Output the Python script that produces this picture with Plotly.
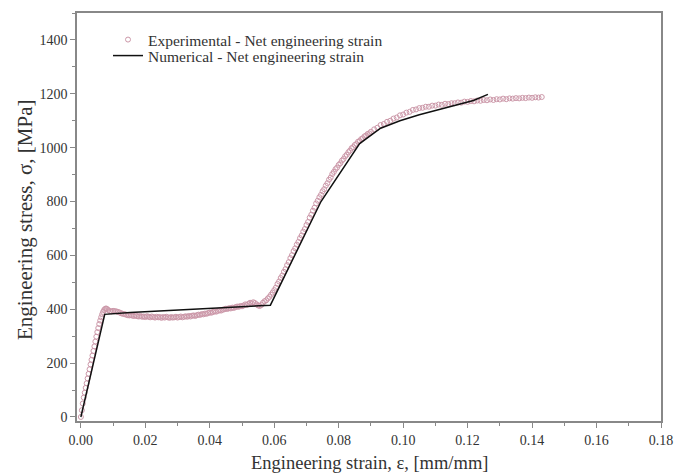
import plotly.graph_objects as go

# ---------------- data ----------------
# Experimental - elastic part
exp_strain_a = [0.0000, 0.0003, 0.0006, 0.0009, 0.0012, 0.0015, 0.0018, 0.0021, 0.0024, 0.0027,
                0.0030, 0.0033, 0.0036, 0.0039, 0.0042, 0.0045, 0.0048, 0.0051, 0.0054, 0.0057,
                0.0060, 0.0063, 0.0066, 0.0069, 0.0072, 0.0075, 0.0078]
exp_stress_a = [0, 25, 50, 72, 90, 108, 125, 143, 160, 177,
                195, 212, 228, 245, 262, 280, 298, 315, 330, 345,
                358, 370, 381, 390, 397, 401, 403]

# Experimental - yield plateau
exp_strain_b = [0.0081, 0.0085, 0.0090, 0.0095, 0.0100, 0.0105, 0.0110, 0.0115, 0.0120, 0.0125,
                0.0130, 0.0135, 0.0140, 0.0145, 0.0150, 0.0155, 0.0160, 0.0165, 0.0170, 0.0175,
                0.0180, 0.0185, 0.0190, 0.0195, 0.0200, 0.0205, 0.0210, 0.0215, 0.0220, 0.0225,
                0.0230, 0.0235, 0.0240, 0.0245, 0.0250, 0.0255, 0.0260, 0.0265, 0.0270, 0.0275,
                0.0280, 0.0285, 0.0290, 0.0295, 0.0300, 0.0305, 0.0310, 0.0315, 0.0320, 0.0325,
                0.0330, 0.0335, 0.0340, 0.0345, 0.0350, 0.0355, 0.0360, 0.0365, 0.0370, 0.0375,
                0.0380, 0.0385, 0.0390, 0.0395, 0.0400, 0.0405, 0.0410, 0.0415, 0.0420, 0.0425,
                0.0430, 0.0435, 0.0440, 0.0445, 0.0450, 0.0455, 0.0460, 0.0465, 0.0470, 0.0475,
                0.0480, 0.0485, 0.0490, 0.0495, 0.0500, 0.0505, 0.0510, 0.0515, 0.0520, 0.0525,
                0.0530, 0.0535, 0.0540, 0.0545, 0.0550, 0.0555, 0.0560, 0.0565, 0.0570]
exp_stress_b = [401, 397, 393, 392, 394, 393, 392, 390, 388, 385,
                383, 382, 380, 378, 377, 378, 376, 375, 377, 374,
                373, 375, 372, 373, 371, 374, 372, 370, 373, 371,
                369, 372, 370, 371, 368, 371, 369, 372, 370, 368,
                371, 369, 370, 372, 369, 371, 373, 370, 372, 374,
                372, 375, 373, 376, 377, 375, 378, 380, 379, 382,
                381, 384, 383, 386, 388, 387, 390, 392, 391, 394,
                396, 395, 398, 400, 402, 401, 404, 403, 406, 405,
                408, 410, 409, 412, 411, 414, 418, 416, 420, 424,
                422, 426, 423, 418, 414, 412, 416, 424, 430]

# Experimental - hardening (steep)
exp_strain_c = [0.0575, 0.0580, 0.0585, 0.0590, 0.0595, 0.0600, 0.0605, 0.0610, 0.0615, 0.0620,
                0.0625, 0.0630, 0.0635, 0.0640, 0.0645, 0.0650, 0.0655, 0.0660, 0.0665, 0.0670,
                0.0675, 0.0680, 0.0685, 0.0690, 0.0695, 0.0700, 0.0705, 0.0710, 0.0715, 0.0720,
                0.0725, 0.0730, 0.0735, 0.0740, 0.0745, 0.0750, 0.0755, 0.0760, 0.0765, 0.0770,
                0.0775, 0.0780, 0.0785, 0.0790, 0.0795, 0.0800, 0.0805, 0.0810, 0.0815, 0.0820,
                0.0825, 0.0830, 0.0835, 0.0840, 0.0845, 0.0850, 0.0855, 0.0860, 0.0865, 0.0870,
                0.0875, 0.0880, 0.0885, 0.0890, 0.0895, 0.0900]
exp_stress_c = [433, 440, 446, 454, 462, 471, 480, 494, 503, 516,
                525, 539, 549, 564, 575, 590, 601, 616, 626, 640,
                650, 664, 674, 688, 698, 713, 724, 740, 751, 766,
                777, 793, 803, 816, 825, 838, 846, 859, 868, 881,
                889, 902, 910, 920, 926, 936, 942, 952, 958, 968,
                974, 983, 989, 998, 1002, 1010, 1014, 1022, 1025, 1032,
                1035, 1042, 1045, 1051, 1053, 1059]

# Experimental - hardening (saturation)
exp_strain_d = [0.091, 0.092, 0.093, 0.094, 0.095, 0.096, 0.097, 0.098, 0.099, 0.100,
                0.101, 0.102, 0.103, 0.104, 0.105, 0.106, 0.107, 0.108, 0.109, 0.110,
                0.111, 0.112, 0.113, 0.114, 0.115, 0.116, 0.117, 0.118, 0.119, 0.120,
                0.121, 0.122, 0.123, 0.124, 0.125, 0.126, 0.127, 0.128, 0.129, 0.130,
                0.131, 0.132, 0.133, 0.134, 0.135, 0.136, 0.137, 0.138, 0.139, 0.140,
                0.141, 0.142, 0.143]
exp_stress_d = [1068, 1074, 1084, 1088, 1096, 1100, 1108, 1112, 1120, 1123,
                1130, 1133, 1140, 1142, 1147, 1148, 1152, 1152, 1156, 1156,
                1160, 1159, 1163, 1162, 1165, 1165, 1168, 1167, 1171, 1170,
                1173, 1172, 1175, 1174, 1177, 1176, 1179, 1177, 1180, 1179,
                1182, 1180, 1183, 1182, 1184, 1183, 1185, 1184, 1186, 1185,
                1187, 1186, 1188]

# Numerical curve
num_strain = [0.0, 0.0074, 0.0153, 0.0422, 0.0588, 0.0745, 0.0865, 0.093, 0.099, 0.105,
              0.1136, 0.1218, 0.1263]
num_stress = [0, 381, 388, 403, 415, 800, 1015, 1072, 1100, 1122,
              1148, 1175, 1198]

x_ticks = [0.00, 0.02, 0.04, 0.06, 0.08, 0.10, 0.12, 0.14, 0.16, 0.18]
x_tick_labels = ["0.00", "0.02", "0.04", "0.06", "0.08", "0.10", "0.12", "0.14", "0.16", "0.18"]
y_ticks = [0, 200, 400, 600, 800, 1000, 1200, 1400]
y_tick_labels = ["0", "200", "400", "600", "800", "1000", "1200", "1400"]

exp_strain = exp_strain_a + exp_strain_b + exp_strain_c + exp_strain_d
exp_stress = exp_stress_a + exp_stress_b + exp_stress_c + exp_stress_d
assert len(exp_strain) == len(exp_stress)

# ---------------- figure ----------------
FONT = "Liberation Serif, Times New Roman, serif"
AXIS_COL = "#888888"
TXT_COL = "#333333"
W, H = 675, 475
# plot frame in page pixels: left 77, right 661, top 13, bottom 421
ML, MT = 77, 13
MR, MB = W - 661, H - 421
PW, PH = W - ML - MR, H - MT - MB


def px(xp):
    return (xp - ML) / PW


def py(yp):
    return (H - MB - yp) / PH


fig = go.Figure()
fig.add_trace(go.Scatter(
    x=exp_strain, y=exp_stress, mode="markers",
    name="Experimental - Net engineering strain", legend="legend",
    marker=dict(symbol="circle-open", size=5, color="#cc98a9", line=dict(width=1, color="#cc98a9")),
))
fig.add_trace(go.Scatter(
    x=num_strain, y=num_stress, mode="lines",
    name="Numerical - Net engineering strain", legend="legend2",
    line=dict(color="#111111", width=1.5),
))

leg_common = dict(xanchor="left", yanchor="top", bgcolor="rgba(0,0,0,0)", borderwidth=0,
                  font=dict(family=FONT, size=15.5, color=TXT_COL), itemwidth=30)
fig.update_layout(
    width=W, height=H,
    margin=dict(l=ML, r=MR, t=MT, b=MB, pad=0),
    paper_bgcolor="white", plot_bgcolor="white",
    font=dict(family=FONT, size=14, color=TXT_COL),
    showlegend=True,
    legend=dict(x=px(108), y=py(23), **leg_common),
    legend2=dict(x=px(108), y=py(39), **leg_common),
    annotations=[
        dict(text="Engineering strain, ε, [mm/mm]", xref="paper", yref="paper",
             x=0.5, y=py(463), xanchor="center", yanchor="middle",
             showarrow=False, font=dict(family=FONT, size=18.5, color=TXT_COL)),
        dict(text="Engineering stress, σ, [MPa]", xref="paper", yref="paper",
             x=px(25), y=py(220), xanchor="center", yanchor="middle",
             textangle=-90, showarrow=False, font=dict(family=FONT, size=21, color=TXT_COL)),
    ],
)
fig.update_xaxes(
    range=[-0.0012, 0.18], tickvals=x_ticks, ticktext=x_tick_labels, automargin=False,
    showgrid=False, zeroline=False,
    showline=True, linecolor=AXIS_COL, linewidth=1.5, mirror=True,
    ticks="outside", ticklen=5, tickwidth=1.2, tickcolor=AXIS_COL,
    minor=dict(ticks="outside", ticklen=3, tickwidth=1, tickcolor=AXIS_COL, dtick=0.01, tick0=0),
    tickfont=dict(family=FONT, size=14, color=TXT_COL), ticklabeloverflow="allow",
)
fig.update_yaxes(
    range=[-15, 1500], tickvals=y_ticks, ticktext=y_tick_labels, automargin=False,
    showgrid=False, zeroline=False,
    showline=True, linecolor=AXIS_COL, linewidth=1.5, mirror=True,
    ticks="outside", ticklen=5, tickwidth=1.2, tickcolor=AXIS_COL,
    minor=dict(ticks="outside", ticklen=3, tickwidth=1, tickcolor=AXIS_COL, dtick=100, tick0=0),
    tickfont=dict(family=FONT, size=14, color=TXT_COL),
)

fig.write_html(
    "out.html",
    config={"displayModeBar": False},
    post_script="document.body.style.margin='0';document.documentElement.style.overflow='hidden';",
)
